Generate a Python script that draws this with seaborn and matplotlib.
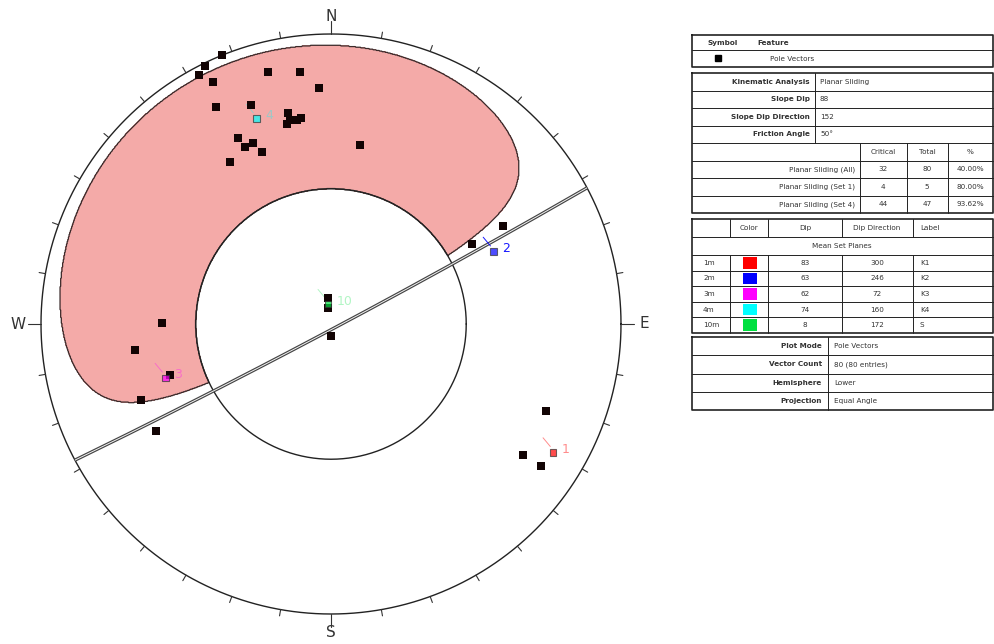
import numpy as np
import pandas as pd
import matplotlib
matplotlib.use("Agg")
import matplotlib.pyplot as plt
import seaborn as sns

# ---------------- data ----------------
# Pole vectors: trend / plunge (degrees), lower hemisphere
pole_trend = [334, 338, 332, 334, 346, 353, 357, 332, 340, 348.5, 348.6, 350.5,
              351.7, 347.6, 333.4, 334, 336.7, 338, 328, 9.2, 270.3, 262.4,
              252.4, 248.2, 238.6, 60.3, 60.4, 353, 349, 180, 112, 124.3, 124.1]
pole_plunge = [0.5, 0, 1.6, 4.3, 6.4, 7.6, 11.7, 9.4, 12.3, 16.9, 18.7, 19.0,
               18.7, 19.6, 18.7, 21.7, 21.7, 24.8, 23.3, 26.0, 29.5, 21.5,
               29.6, 19.6, 19.5, 21.4, 31.6, 79.7, 83.6, 85.3, 12.7, 12.6, 7.7]

# Mean set planes
set_ids = ["1m", "2m", "3m", "4m", "10m"]
set_dip = [83, 63, 62, 74, 8]
set_dipdir = [300, 246, 72, 160, 172]
set_labels = ["K1", "K2", "K3", "K4", "S"]
set_numbers = ["1", "2", "3", "4", "10"]
set_colors = ["#ff0000", "#0000ff", "#ff00ff", "#00ffff", "#00e040"]
label_alpha = [0.45, 0.9, 0.35, 0.35, 0.3]

# Kinematic analysis
slope_dip = 88
slope_dipdir = 152
friction_angle = 50
crit_rows = ["Planar Sliding (All)", "Planar Sliding (Set 1)", "Planar Sliding (Set 4)"]
crit_critical = [32, 4, 44]
crit_total = [80, 5, 47]

# ---------------- helpers ----------------
def project(trend, plunge):
    """Equal-angle (stereographic) projection, lower hemisphere."""
    t = np.radians(np.asarray(trend, float))
    r = np.tan(np.radians(90.0 - np.asarray(plunge, float)) / 2.0)
    return r * np.sin(t), r * np.cos(t)

def great_circle(dip, dipdir, n=400):
    t = np.linspace(dipdir - 90, dipdir + 90, n)
    p = np.degrees(np.arctan(np.tan(np.radians(dip)) * np.cos(np.radians(t - dipdir))))
    p = np.clip(p, 0, 90)
    return project(t, p)

sns.set_theme(style="white")
plt.rcParams["font.family"] = ["DejaVu Sans"]

W, H = 995, 644
fig = plt.figure(figsize=(W / 100, H / 100), dpi=100)
fig.patch.set_facecolor("white")

# stereonet axes: unit circle, centre at (331, 324) px, radius 290 px
cx, cy, R, ext = 331, 324, 290, 1.1
ax = fig.add_axes([(cx - ext * R) / W, 1 - (cy + ext * R) / H,
                   2 * ext * R / W, 2 * ext * R / H])
ax.set_xlim(-ext, ext)
ax.set_ylim(-ext, ext)
ax.set_aspect("equal")
ax.axis("off")

# planar sliding critical zone (pole space)
g = np.linspace(-1, 1, 900)
X, Y = np.meshgrid(g, g)
Rr = np.hypot(X, Y)
az = np.degrees(np.arctan2(X, Y))
dip_p = 2 * np.degrees(np.arctan(Rr))
dd_p = az + 180.0
cond = (Rr <= 1.0) & (dip_p > friction_angle) & (
    np.tan(np.radians(dip_p)) < np.tan(np.radians(slope_dip)) *
    np.cos(np.radians(dd_p - slope_dipdir)))
mask = cond.astype(float)
ax.contourf(X, Y, mask, levels=[0.5, 1.5], colors=["#f4a6a4"], alpha=0.95)
ax.contour(X, Y, mask, levels=[0.5], colors=["#3a2a2a"], linewidths=0.9)

# primitive and friction circle
th = np.linspace(0, 2 * np.pi, 721)
ax.plot(np.cos(th), np.sin(th), color="#222222", lw=1.0)
rf = np.tan(np.radians(friction_angle) / 2)
ax.plot(rf * np.cos(th), rf * np.sin(th), color="#222222", lw=1.0)

# ticks on primitive
for a in range(0, 360, 10):
    s, c = np.sin(np.radians(a)), np.cos(np.radians(a))
    L = 0.045 if a % 90 == 0 else 0.022
    ax.plot([s, s * (1 + L)], [c, c * (1 + L)], color="#333333", lw=0.8)
for lab, a, d in [("N", 0, 1.06), ("E", 90, 1.08), ("S", 180, 1.065), ("W", 270, 1.08)]:
    s, c = np.sin(np.radians(a)), np.cos(np.radians(a))
    ax.text(s * d, c * d, lab, ha="center", va="center",
            fontsize=11, color="#333333")

# slope face great circle (drawn as a double line)
gx, gy = great_circle(slope_dip, slope_dipdir)
ax.plot(gx, gy, color="#444444", lw=2.4, solid_capstyle="butt")
ax.plot(gx, gy, color="#f2f2f2", lw=0.7, solid_capstyle="butt")

# pole vectors
px, py = project(pole_trend, pole_plunge)
poles = pd.DataFrame({"x": px, "y": py})
sns.scatterplot(data=poles, x="x", y="y", marker="s", color="#120404",
                s=26, linewidth=0, ax=ax, zorder=5, legend=False)

# mean set poles
mtrend = [(d + 180) % 360 for d in set_dipdir]
mplunge = [90 - d for d in set_dip]
mx, my = project(mtrend, mplunge)
means = pd.DataFrame({"x": mx, "y": my, "set": set_ids})
sns.scatterplot(data=means, x="x", y="y", hue="set", palette=set_colors,
                marker="s", s=22, linewidth=0.8, edgecolor="#333333",
                alpha=0.7, ax=ax, zorder=6, legend=False)
for x, y, n, col, la in zip(mx, my, set_numbers, set_colors, label_alpha):
    ax.plot([x - 0.01, x - 0.035], [y + 0.02, y + 0.05], color=col, lw=0.7, alpha=la)
    ax.text(x + 0.03, y + 0.01, n, color=col, fontsize=9, alpha=la,
            ha="left", va="center", zorder=7)
ax.set_xlabel("")
ax.set_ylabel("")

# ---------------- information tables ----------------
tax = fig.add_axes([0, 0, 1, 1])
tax.set_xlim(0, W)
tax.set_ylim(H, 0)
tax.axis("off")
fs = 5.2
lc = "#222222"

def box(x0, y0, x1, y1, lw=1.2):
    tax.plot([x0, x1, x1, x0, x0], [y0, y0, y1, y1, y0], color=lc, lw=lw)

def hl(y, x0, x1, lw=0.7):
    tax.plot([x0, x1], [y, y], color=lc, lw=lw)

def vl(x, y0, y1, lw=0.7):
    tax.plot([x, x], [y0, y1], color=lc, lw=lw)

def txt(x, y, s, ha="left", bold=False):
    tax.text(x, y, s, ha=ha, va="center", fontsize=fs, color="#333333",
             fontweight="bold" if bold else "normal")

X0, X1 = 692, 993

# symbol / feature
box(X0, 35, X1, 67)
hl(50, X0, X1)
txt(707, 42.5, "Symbol", bold=True)
txt(757, 42.5, "Feature", bold=True)
tax.add_patch(plt.Rectangle((715, 55), 6, 6, color="black"))
txt(770, 58.5, "Pole Vectors")

# kinematic analysis
rows = np.linspace(73, 213, 9)
box(X0, 73, X1, 213)
for y in rows[1:-1]:
    hl(y, X0, X1)
vl(815, rows[0], rows[4])
for xv in (860, 907, 948):
    vl(xv, rows[4], rows[8])
mid = (rows[:-1] + rows[1:]) / 2
info = [("Kinematic Analysis", "Planar Sliding"),
        ("Slope Dip", str(slope_dip)),
        ("Slope Dip Direction", str(slope_dipdir)),
        ("Friction Angle", f"{friction_angle}°")]
for i, (a, b) in enumerate(info):
    txt(810, mid[i], a, ha="right", bold=True)
    txt(820, mid[i], b)
txt(883, mid[4], "Critical", ha="center")
txt(927, mid[4], "Total", ha="center")
txt(970, mid[4], "%", ha="center")
for i, (lab, c, t) in enumerate(zip(crit_rows, crit_critical, crit_total)):
    yy = mid[5 + i]
    txt(855, yy, lab, ha="right")
    txt(883, yy, str(c), ha="center")
    txt(927, yy, str(t), ha="center")
    txt(970, yy, f"{100 * c / t:.2f}%", ha="center")

# mean set planes
box(X0, 219, X1, 333)
srows = [219, 237, 255] + list(np.linspace(255, 333, 6)[1:])
for y in srows[1:-1]:
    hl(y, X0, X1)
for xv in (730, 768, 842, 913):
    vl(xv, 219, 237)
    vl(xv, 255, 333)
txt(749, 228, "Color", ha="center")
txt(805, 228, "Dip", ha="center")
txt(877, 228, "Dip Direction", ha="center")
txt(920, 228, "Label")
txt(842, 246, "Mean Set Planes", ha="center")
dr = np.linspace(255, 333, 6)
for i in range(5):
    yy = (dr[i] + dr[i + 1]) / 2
    txt(703, yy, set_ids[i])
    tax.add_patch(plt.Rectangle((743, dr[i] + 2), 14, dr[i + 1] - dr[i] - 4,
                                facecolor=set_colors[i], edgecolor="none"))
    txt(805, yy, str(set_dip[i]), ha="center")
    txt(877, yy, str(set_dipdir[i]), ha="center")
    txt(920, yy, set_labels[i])

# plot settings
box(X0, 337, X1, 410)
prow = np.linspace(337, 410, 5)
for y in prow[1:-1]:
    hl(y, X0, X1)
vl(828, 337, 410)
settings = [("Plot Mode", "Pole Vectors"),
            ("Vector Count", f"{max(crit_total)} ({max(crit_total)} entries)"),
            ("Hemisphere", "Lower"),
            ("Projection", "Equal Angle")]
for i, (a, b) in enumerate(settings):
    yy = (prow[i] + prow[i + 1]) / 2
    txt(822, yy, a, ha="right", bold=True)
    txt(834, yy, b)

fig.savefig("out.png", dpi=100, facecolor="white")
